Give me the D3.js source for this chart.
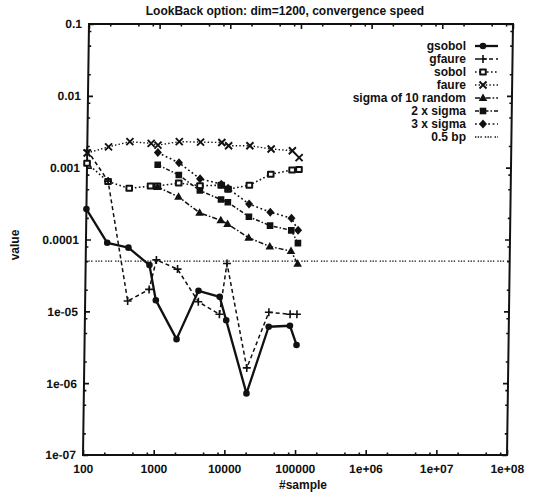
<!DOCTYPE html>
<html><head><meta charset="utf-8">
<script src="https://cdn.jsdelivr.net/npm/d3@7"></script>
<style>
body{margin:0;background:#fff}
svg{display:block}
text{font-family:"Liberation Sans",Arial,Helvetica,sans-serif;font-weight:bold;fill:#111}
</style>
</head><body>
<svg id="c" width="535" height="495"></svg>
<script>
// ---------- data ----------
const title = "LookBack option: dim=1200, convergence speed";
const xLabel = "#sample";
const yLabel = "value";
const xTicks = [100, 1000, 10000, 100000, 1e6, 1e7, 1e8];
const xTickLabels = ["100", "1000", "10000", "100000", "1e+06", "1e+07", "1e+08"];
const yTicks = [1e-7, 1e-6, 1e-5, 1e-4, 1e-3, 1e-2, 1e-1];
const yTickLabels = ["1e-07", "1e-06", "1e-05", "0.0001", "0.001", "0.01", "0.1"];

const samples = [100, 200, 400, 800, 1000, 2000, 4000, 8000, 10000, 20000, 40000, 80000, 100000];
const samplesSigma = [1000, 2000, 4000, 8000, 10000, 20000, 40000, 80000, 100000];

const gsobol = [2.65e-4, 9.0e-5, 7.7e-5, 4.4e-5, 1.43e-5, 4.1e-6, 1.93e-5, 1.59e-5, 7.5e-6, 7.2e-7, 6.1e-6, 6.3e-6, 3.4e-6];
const gfaure = [1.75e-3, 6.5e-4, 1.39e-5, 2.02e-5, 5.2e-5, 3.87e-5, 1.36e-5, 9.1e-6, 4.64e-5, 1.63e-6, 9.7e-6, 9.1e-6, 9.1e-6];
const sobol = [1.15e-3, 6.4e-4, 5.15e-4, 5.55e-4, 5.55e-4, 6.1e-4, 5.6e-4, 5.7e-4, 5.0e-4, 5.7e-4, 8.1e-4, 9.3e-4, 9.4e-4];
const faure = [1.6e-3, 1.95e-3, 2.3e-3, 2.18e-3, 2.06e-3, 2.3e-3, 2.27e-3, 2.24e-3, 2.02e-3, 2.02e-3, 1.82e-3, 1.72e-3, 1.38e-3];
const sigma = [5.4e-4, 3.93e-4, 2.35e-4, 1.85e-4, 1.65e-4, 1.06e-4, 8.0e-5, 6.9e-5, 4.6e-5];
const sigma2 = [1.1e-3, 7.9e-4, 4.8e-4, 3.6e-4, 3.3e-4, 2.07e-4, 1.56e-4, 1.34e-4, 8.9e-5];
const sigma3 = [1.62e-3, 1.17e-3, 7.0e-4, 5.9e-4, 5.15e-4, 3.12e-4, 2.4e-4, 1.98e-4, 1.34e-4];
const halfBp = 5e-5;

const seriesNames = ["gsobol", "gfaure", "sobol", "faure", "sigma of 10 random", "2 x sigma", "3 x sigma", "0.5 bp"];

// ---------- layout / styles ----------
const L = 83, R = 507, T = 24, B = 455;
const FS = 12;
const styles = {
  "gsobol":             {dash: null,              w: 2.3, mk: "circle"},
  "gfaure":             {dash: "4,3",             w: 1.5, mk: "plus"},
  "sobol":              {dash: "1.6,2.4",         w: 1.6, mk: "box"},
  "faure":              {dash: "1.4,2.2",         w: 1.4, mk: "cross"},
  "sigma of 10 random": {dash: "5,2,1.6,2",       w: 1.5, mk: "tri"},
  "2 x sigma":          {dash: "4,2,1.5,2",       w: 1.5, mk: "sq"},
  "3 x sigma":          {dash: "1.8,2.6",         w: 1.6, mk: "diamond"},
  "0.5 bp":             {dash: "1.4,1.3,1.4,1.3,1.4,3", w: 1.3, mk: null}
};

const svg = d3.select("#c");
const x = d3.scaleLog().domain([100, 1e8]).range([L, R]);
const y = d3.scaleLog().domain([1e-7, 0.1]).range([B, T]);

// slight skew of the scanned original
const shear = -0.0139;
const g = svg.append("g")
  .attr("transform", `translate(${-shear * B},0) skewX(${Math.atan(shear) * 180 / Math.PI})`);

// minor tick values (2,5,8 per decade)
const xMinor = [], yMinor = [];
for (let e = 2; e < 8; e++) [2, 5, 8].forEach(m => xMinor.push(m * Math.pow(10, e)));
for (let e = -7; e < -1; e++) [2, 5, 8].forEach(m => yMinor.push(m * Math.pow(10, e)));

function styleAxis(sel) {
  sel.select(".domain").remove();
  sel.selectAll("line").attr("stroke", "#111").attr("stroke-width", 1.6);
  sel.selectAll("text").attr("font-size", FS).attr("font-family", null).attr("fill", "#111");
  sel.attr("font-family", null).attr("font-size", FS);
}

// bottom
g.append("g").attr("transform", `translate(0,${B})`)
  .call(d3.axisBottom(x).tickValues(xTicks).tickFormat((d, i) => xTickLabels[i]).tickSize(-5).tickPadding(9))
  .call(styleAxis);
g.append("g").attr("transform", `translate(0,${B})`)
  .call(d3.axisBottom(x).tickValues(xMinor).tickFormat("").tickSize(-2.5)).call(styleAxis);
// top
g.append("g").attr("transform", `translate(0,${T})`)
  .call(d3.axisTop(x).tickValues(xTicks).tickFormat("").tickSize(-5)).call(styleAxis);
g.append("g").attr("transform", `translate(0,${T})`)
  .call(d3.axisTop(x).tickValues(xMinor).tickFormat("").tickSize(-2.5)).call(styleAxis);
// left
g.append("g").attr("transform", `translate(${L},0)`)
  .call(d3.axisLeft(y).tickValues(yTicks).tickFormat((d, i) => yTickLabels[i]).tickSize(-5).tickPadding(7))
  .call(styleAxis);
g.append("g").attr("transform", `translate(${L},0)`)
  .call(d3.axisLeft(y).tickValues(yMinor).tickFormat("").tickSize(-2.5)).call(styleAxis);
// right
g.append("g").attr("transform", `translate(${R},0)`)
  .call(d3.axisRight(y).tickValues(yTicks).tickFormat("").tickSize(-5)).call(styleAxis);
g.append("g").attr("transform", `translate(${R},0)`)
  .call(d3.axisRight(y).tickValues(yMinor).tickFormat("").tickSize(-2.5)).call(styleAxis);

// frame
g.append("rect").attr("x", L).attr("y", T).attr("width", R - L).attr("height", B - T)
  .attr("fill", "none").attr("stroke", "#111").attr("stroke-width", 2);

// markers
function marker(sel, type, cx, cy) {
  const k = "#111";
  if (type === "circle") sel.append("circle").attr("cx", cx).attr("cy", cy).attr("r", 3.3).attr("fill", k);
  else if (type === "plus") sel.append("path").attr("d", `M${cx-4},${cy}H${cx+4}M${cx},${cy-4}V${cy+4}`).attr("stroke", k).attr("stroke-width", 1.6).attr("fill", "none");
  else if (type === "cross") sel.append("path").attr("d", `M${cx-3.5},${cy-3.5}L${cx+3.5},${cy+3.5}M${cx-3.5},${cy+3.5}L${cx+3.5},${cy-3.5}`).attr("stroke", k).attr("stroke-width", 1.9).attr("fill", "none");
  else if (type === "box") {
    sel.append("rect").attr("x", cx - 3.8).attr("y", cy - 3.5).attr("width", 7.6).attr("height", 7).attr("fill", "#111").attr("rx", 1);
    sel.append("rect").attr("x", cx - 1.8).attr("y", cy - 1.5).attr("width", 3.6).attr("height", 3).attr("fill", "#fff");
  }
  else if (type === "tri") sel.append("path").attr("d", `M${cx},${cy-4.5}L${cx+4.3},${cy+3}L${cx-4.3},${cy+3}Z`).attr("fill", k);
  else if (type === "sq") sel.append("rect").attr("x", cx - 3.3).attr("y", cy - 3.3).attr("width", 6.6).attr("height", 6.6).attr("fill", k);
  else if (type === "diamond") sel.append("path").attr("d", `M${cx},${cy-4.5}L${cx+4},${cy}L${cx},${cy+4.5}L${cx-4},${cy}Z`).attr("fill", k);
}

const line = d3.line().x(d => x(d[0])).y(d => y(d[1]));
function drawSeries(name, xs, vs) {
  const st = styles[name];
  const pts = xs.map((xv, i) => [xv, vs[i]]);
  g.append("path").datum(pts).attr("d", line).attr("fill", "none")
    .attr("stroke", "#111").attr("stroke-width", st.w)
    .attr("stroke-dasharray", st.dash).attr("stroke-linejoin", "round");
  const mg = g.append("g");
  pts.forEach(p => marker(mg, st.mk, x(p[0]), y(p[1])));
}

// 0.5 bp reference line
g.append("line").attr("x1", L).attr("x2", R).attr("y1", y(halfBp)).attr("y2", y(halfBp))
  .attr("stroke", "#111").attr("stroke-width", styles["0.5 bp"].w).attr("stroke-dasharray", styles["0.5 bp"].dash);

drawSeries("faure", samples, faure);
drawSeries("sobol", samples, sobol);
drawSeries("3 x sigma", samplesSigma, sigma3);
drawSeries("2 x sigma", samplesSigma, sigma2);
drawSeries("sigma of 10 random", samplesSigma, sigma);
drawSeries("gfaure", samples, gfaure);
drawSeries("gsobol", samples, gsobol);

// legend
const lg = svg.append("g");
seriesNames.forEach((n, i) => {
  const yy = 46 + i * 13;
  lg.append("text").attr("x", 466).attr("y", yy).attr("dy", "0.35em").attr("text-anchor", "end")
    .attr("font-size", FS).text(n);
  const st = styles[n];
  lg.append("line").attr("x1", 475).attr("x2", 498).attr("y1", yy).attr("y2", yy)
    .attr("stroke", "#111").attr("stroke-width", st.w).attr("stroke-dasharray", st.dash);
  if (st.mk) marker(lg, st.mk, 483, yy);
});

// titles
svg.append("text").attr("x", 285).attr("y", 15).attr("text-anchor", "middle").attr("font-size", FS).text(title);
svg.append("text").attr("x", 303).attr("y", 489).attr("text-anchor", "middle").attr("font-size", FS).text(xLabel);
svg.append("text").attr("transform", "translate(19,245) rotate(-90)").attr("text-anchor", "middle").attr("font-size", FS).text(yLabel);
</script>
</body></html>
